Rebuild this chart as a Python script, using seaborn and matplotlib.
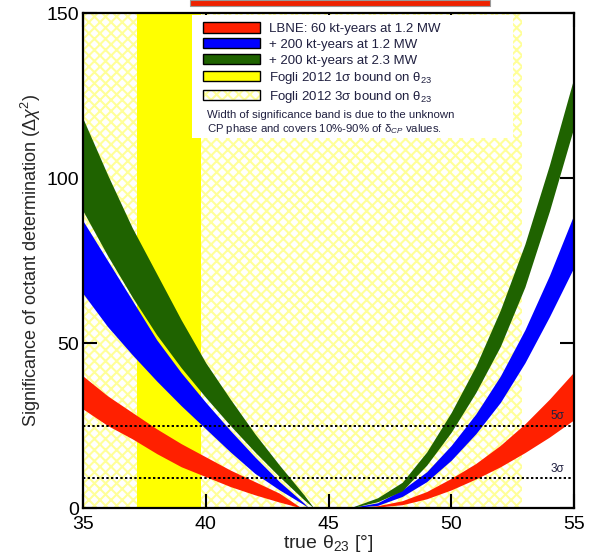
import numpy as np
import pandas as pd
import seaborn as sns
import matplotlib
matplotlib.use("Agg")
import matplotlib.pyplot as plt
from matplotlib.patches import Patch, Rectangle

# band edges (true theta23 in degrees, delta chi^2)
red_left_theta = [35, 36, 37, 38, 39, 40, 41, 42, 43, 43.9]
red_left_hi = [40, 34, 29, 24, 19.5, 15.5, 11.5, 8, 4.5, 0]
red_left_lo = [30, 25, 21, 16.5, 12.5, 9.5, 6.5, 4, 1.8, 0]
red_right_theta = [46, 47, 48, 49, 50, 51, 52, 53, 54, 55]
red_right_hi = [0, 0.7, 2.2, 5, 9, 13.5, 19, 25.5, 33, 41.25]
red_right_lo = [0, 0.3, 1.0, 2.8, 5.5, 8.8, 12.5, 16.8, 21.5, 26.75]

blue_left_theta = [35, 36, 37, 38, 39, 40, 41, 42, 43, 44, 44.2]
blue_left_hi = [87, 75, 63, 51, 41, 32, 23.5, 15.5, 8, 1.5, 0]
blue_left_lo = [65, 55, 46.5, 38.5, 31, 24, 17, 10.5, 5.5, 1, 0]
blue_right_theta = [45.8, 46, 47, 48, 49, 50, 51, 52, 53, 54, 55]
blue_right_hi = [0, 0.25, 1.6, 5.5, 11, 19, 28.5, 40, 54, 70.5, 89]
blue_right_lo = [0, 0.15, 0.8, 3.5, 8, 14.5, 22.5, 32, 44, 58, 73]

green_left_theta = [35, 36, 37, 38, 39, 40, 41, 42, 43, 44, 44.4]
green_left_hi = [118, 101, 85, 71, 57, 44, 33, 22.5, 13, 4, 0]
green_left_lo = [90, 76.5, 64, 52.5, 42.5, 33.5, 25, 17, 9.5, 2.5, 0]
green_right_theta = [45.7, 46, 47, 48, 49, 50, 51, 52, 53, 54, 55]
green_right_hi = [0, 0.4, 3.1, 7.8, 17, 29, 43, 60, 80, 104, 130.5]
green_right_lo = [0, 0.2, 1.9, 5.2, 13, 23, 35, 49, 67, 90, 115.5]

fogli_1sigma = [37.2, 39.8]
fogli_3sigma = [35.0, 52.9]
sigma_levels = [25, 9]
sigma_labels = ["5σ", "3σ"]

legend_labels = [
    "LBNE: 60 kt-years at 1.2 MW",
    "+ 200 kt-years at 1.2 MW",
    "+ 200 kt-years at 2.3 MW",
    r"Fogli 2012 1σ bound on θ$_{23}$",
    r"Fogli 2012 3σ bound on θ$_{23}$",
]

RED = "#ff2000"
BLUE = "#0000ff"
GREEN = "#1f6300"
YELLOW = "#ffff00"
HATCH = "#ffff99"

sns.set_theme(style="ticks")
plt.rcParams["font.family"] = ["Liberation Sans", "DejaVu Sans"]
plt.rcParams["mathtext.fontset"] = "custom"
plt.rcParams["mathtext.rm"] = "Liberation Sans"
plt.rcParams["mathtext.it"] = "Liberation Sans:italic"
plt.rcParams["hatch.linewidth"] = 1.5

fig = plt.figure(figsize=(6.02, 5.56), dpi=100)
ax = fig.add_axes([0.1379, 0.0863, 0.8156, 0.8903])

# Fogli bounds
ax.axvspan(*fogli_3sigma, facecolor="white", edgecolor=HATCH, hatch="xxx", lw=0, zorder=0.5)
ax.axvspan(*fogli_1sigma, facecolor=YELLOW, edgecolor="none", lw=0, zorder=1)

# white box behind legend
ax.add_patch(Rectangle((0.222, 0.747), 0.654, 0.249, transform=ax.transAxes,
                       facecolor="white", edgecolor="none", zorder=2))

bands = [
    (red_left_theta, red_left_lo, red_left_hi, RED),
    (red_right_theta, red_right_lo, red_right_hi, RED),
    (blue_left_theta, blue_left_lo, blue_left_hi, BLUE),
    (blue_right_theta, blue_right_lo, blue_right_hi, BLUE),
    (green_left_theta, green_left_lo, green_left_hi, GREEN),
    (green_right_theta, green_right_lo, green_right_hi, GREEN),
]
for th, lo, hi, c in bands:
    ax.fill_between(th, lo, hi, color=c, lw=0, zorder=3)

# 3 and 5 sigma lines
for lev, lab in zip(sigma_levels, sigma_labels):
    df = pd.DataFrame({"x": [35, 55], "y": [lev, lev]})
    sns.lineplot(data=df, x="x", y="y", ax=ax, color="black", lw=1.4,
                 linestyle=(0, (1.2, 1.2)), zorder=4)
    ax.text(54.6, lev + 1.0, lab, ha="right", va="bottom", fontsize=8.5,
            color="#202040", zorder=5)

ax.set_xlim(35, 55)
ax.set_ylim(0, 150)
ax.set_xticks([35, 40, 45, 50, 55])
ax.set_yticks([0, 50, 100, 150])
ax.tick_params(direction="in", length=10, width=1.5, top=True, right=True,
               labelsize=14, pad=3, colors="black")
ax.tick_params(axis="x", pad=6)
for s in ax.spines.values():
    s.set_linewidth(1.6)
    s.set_color("black")
    s.set_zorder(6)

ax.set_xlabel(r"true θ$_{23}$ [°]", fontsize=14, labelpad=0)
ax.set_ylabel(r"Significance of octant determination ($\Delta\chi^{2}$)", fontsize=13, labelpad=2)

hatch_handle = (Patch(facecolor="white", edgecolor=HATCH, lw=0, hatch="xxx"),
                Patch(facecolor="none", edgecolor="black", lw=1.0))
handles = [
    Patch(facecolor=RED, edgecolor="black", lw=1.0),
    Patch(facecolor=BLUE, edgecolor="black", lw=1.0),
    Patch(facecolor=GREEN, edgecolor="black", lw=1.0),
    Patch(facecolor=YELLOW, edgecolor="black", lw=1.0),
    hatch_handle,
]
leg = ax.legend(handles, legend_labels, loc="upper left", bbox_to_anchor=(0.244, 0.981),
                frameon=False, fontsize=9.5, handlelength=4.3, handleheight=0.8,
                handletextpad=0.7, labelspacing=0.24, borderpad=0, borderaxespad=0)
leg.set_zorder(7)
for t in leg.get_texts():
    t.set_color("#202040")

ax.text(0.2525, 0.804,
        "Width of significance band is due to the unknown\n"
        r"CP phase and covers 10%-90% of δ$_{CP}$ values.",
        transform=ax.transAxes, ha="left", va="top", fontsize=8.2,
        color="#202040", linespacing=1.15, zorder=7)

# red bar at the top edge of the slide
fig.add_artist(Rectangle((0.316, 0.989), 0.498, 0.011, transform=fig.transFigure,
                         facecolor="#ee2200", edgecolor="#999999", lw=0.8))

fig.savefig("out.png", dpi=100)
